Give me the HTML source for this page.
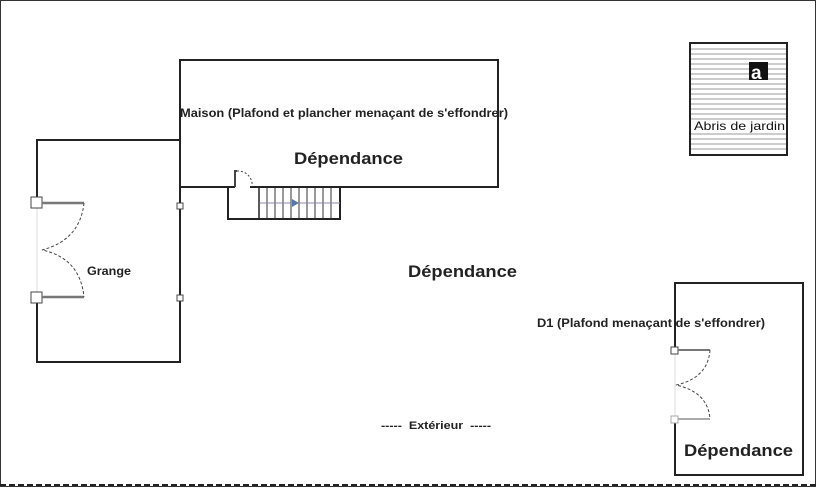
<!DOCTYPE html><html><head><style>body{margin:0;background:#fff}svg{display:block}text{font-family:"Liberation Sans",sans-serif;font-weight:bold;fill:#222}</style></head><body>
<svg width="816" height="488" viewBox="0 0 816 488">
<rect x="0.5" y="0.5" width="815" height="486" fill="none" stroke="#333"/>
<line x1="0" y1="485" x2="816" y2="485" stroke="#222" stroke-width="2" stroke-dasharray="6,3"/>
<rect x="180" y="60" width="318" height="127" fill="none" stroke="#222" stroke-width="2"/>
<text x="180" y="117" font-size="12" textLength="328" lengthAdjust="spacingAndGlyphs">Maison (Plafond et plancher menaçant de s'effondrer)</text>
<text x="294" y="164" font-size="17" textLength="109" lengthAdjust="spacingAndGlyphs">Dépendance</text>
<path d="M228 187V219H340V187" fill="none" stroke="#222" stroke-width="2"/>
<line x1="259" y1="187" x2="259" y2="219" stroke="#222" stroke-width="1.5"/>
<g stroke="#333" stroke-width="1">
<line x1="267" y1="187" x2="267" y2="219"/><line x1="275" y1="187" x2="275" y2="219"/><line x1="283" y1="187" x2="283" y2="219"/><line x1="291" y1="187" x2="291" y2="219"/><line x1="299" y1="187" x2="299" y2="219"/><line x1="307" y1="187" x2="307" y2="219"/><line x1="315" y1="187" x2="315" y2="219"/><line x1="323" y1="187" x2="323" y2="219"/><line x1="331" y1="187" x2="331" y2="219"/>
<line x1="260" y1="203" x2="340" y2="203" stroke="#88a"/></g>
<path d="M292 199L299 203L292 207Z" fill="#5577aa"/>
<line x1="235" y1="187" x2="250" y2="187" stroke="#fff" stroke-width="3"/>
<path d="M235 187V171H237" fill="none" stroke="#444" stroke-width="2"/>
<path d="M237 171A14 14 0 0 1 252 187" fill="none" stroke="#444" stroke-dasharray="2,2"/>
<path d="M37 203V140H180V362H37V297" fill="none" stroke="#222" stroke-width="2"/>
<line x1="37" y1="203" x2="37" y2="297" stroke="#ddd"/>
<rect x="31" y="197" width="11" height="11" fill="#fff" stroke="#444"/>
<rect x="31" y="292" width="11" height="11" fill="#fff" stroke="#444"/>
<rect x="177" y="203" width="6" height="6" fill="#fff" stroke="#444"/>
<rect x="177" y="295" width="6" height="6" fill="#fff" stroke="#444"/>
<line x1="42" y1="203" x2="84" y2="203" stroke="#777" stroke-width="2.5"/>
<line x1="42" y1="297" x2="84" y2="297" stroke="#777" stroke-width="2.5"/>
<path d="M84 203Q80 240 42 250Q80 258 84 297" fill="none" stroke="#444" stroke-dasharray="3,2"/>
<text x="87" y="275" font-size="12" textLength="44" lengthAdjust="spacingAndGlyphs">Grange</text>
<text x="408" y="277" font-size="17" textLength="109" lengthAdjust="spacingAndGlyphs">Dépendance</text>
<rect x="690" y="43" width="97" height="112" fill="#fff" stroke="#222" stroke-width="2"/>
<g stroke="#999" stroke-width="1">
<line x1="691" y1="49" x2="786" y2="49"/><line x1="691" y1="54" x2="786" y2="54"/><line x1="691" y1="59" x2="786" y2="59"/><line x1="691" y1="64" x2="786" y2="64"/><line x1="691" y1="69" x2="786" y2="69"/><line x1="691" y1="74" x2="786" y2="74"/><line x1="691" y1="79" x2="786" y2="79"/><line x1="691" y1="84" x2="786" y2="84"/><line x1="691" y1="89" x2="786" y2="89"/><line x1="691" y1="94" x2="786" y2="94"/><line x1="691" y1="99" x2="786" y2="99"/><line x1="691" y1="104" x2="786" y2="104"/><line x1="691" y1="109" x2="786" y2="109"/><line x1="691" y1="114" x2="786" y2="114"/><line x1="691" y1="119" x2="786" y2="119"/><line x1="691" y1="134" x2="786" y2="134"/><line x1="691" y1="139" x2="786" y2="139"/><line x1="691" y1="144" x2="786" y2="144"/><line x1="691" y1="149" x2="786" y2="149"/></g>
<rect x="749" y="62" width="19" height="18" fill="#111"/>
<text x="751" y="79" font-size="19" style="fill:#fff">a</text>
<text x="694" y="130" font-size="12" textLength="91" lengthAdjust="spacingAndGlyphs" style="font-weight:normal;fill:#111">Abris de jardin</text>
<path d="M675 350V283H803V475H675V420" fill="none" stroke="#222" stroke-width="2"/>
<line x1="675" y1="350" x2="675" y2="420" stroke="#ddd"/>
<rect x="671" y="347" width="7" height="7" fill="#fff" stroke="#444"/>
<rect x="671" y="416" width="7" height="7" fill="#fff" stroke="#aaa"/>
<line x1="678" y1="350" x2="710" y2="350" stroke="#777" stroke-width="2"/>
<line x1="678" y1="419" x2="710" y2="419" stroke="#aaa" stroke-width="2"/>
<path d="M710 350Q708 378 676 385Q708 392 710 419" fill="none" stroke="#444" stroke-dasharray="3,2"/>
<text x="537" y="327" font-size="12" textLength="228" lengthAdjust="spacingAndGlyphs">D1 (Plafond menaçant de s'effondrer)</text>
<text x="684" y="456" font-size="17" textLength="109" lengthAdjust="spacingAndGlyphs">Dépendance</text>
<text x="381" y="429" font-size="11" textLength="110" lengthAdjust="spacingAndGlyphs" xml:space="preserve">-----  Extérieur  -----</text>
</svg></body></html>
